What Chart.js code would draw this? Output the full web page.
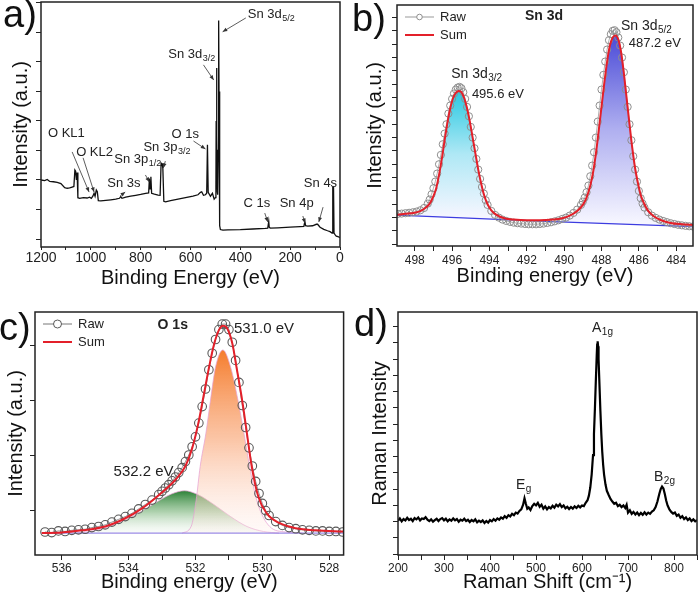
<!DOCTYPE html>
<html>
<head>
<meta charset="utf-8">
<script src="https://cdn.jsdelivr.net/npm/chart.js@4.4.0/dist/chart.umd.min.js"></script>
<style>
  html, body { margin: 0; padding: 0; background: #fff; }
  #wrap { position: relative; width: 698px; height: 600px; overflow: hidden; }
  .panel { position: absolute; width: 349px; height: 300px; }
  .tag { position: absolute; font-family: 'Liberation Sans', Arial, sans-serif; font-size: 38px; line-height: 1; color: #111; }
</style>
</head>
<body>
<div id="wrap">
  <div class="panel" style="left:0;top:0"><canvas id="chartA" width="349" height="300"></canvas></div>
  <div class="panel" style="left:349px;top:0"><canvas id="chartB" width="349" height="300"></canvas></div>
  <div class="panel" style="left:0;top:300px"><canvas id="chartC" width="349" height="300"></canvas></div>
  <div class="panel" style="left:349px;top:300px"><canvas id="chartD" width="349" height="300"></canvas></div>
  <div class="tag" style="left:3px;top:-5px">a)</div>
  <div class="tag" style="left:352px;top:-1px">b)</div>
  <div class="tag" style="left:-1px;top:308px">c)</div>
  <div class="tag" style="left:354px;top:304px">d)</div>
</div>
<script>
const FONT = "'Liberation Sans', Arial, sans-serif";

// a) survey spectrum
const surveyEnergy = [1200, 1185, 1175, 1165, 1150, 1135, 1120, 1105, 1095, 1085, 1075, 1068, 1064, 1061, 1058, 1055, 1052, 1045, 1030, 1015,
  1005, 998, 992, 987, 983, 978, 974, 970, 960, 940, 920, 900, 885, 880, 875, 860, 840, 820, 800, 780,
  768, 765, 762, 759, 756, 745, 730, 722, 718, 714, 711, 707, 700, 680, 650, 620, 590, 570, 560, 555,
  548, 540, 535, 532, 529, 520, 512, 505, 500, 498, 497, 495.5, 494, 492.5, 491, 489, 487, 485.5, 484, 482,
  480, 470, 450, 400, 350, 300, 290, 286, 284, 280, 250, 200, 160, 145, 141, 138, 130, 110, 95, 90,
  80, 65, 50, 40, 32, 29, 26, 24, 20, 15, 8, 3, 0];
const surveyCounts = [2.00, 1.98, 2.02, 1.95, 1.94, 1.92, 1.88, 1.74, 1.72, 1.73, 1.76, 1.78, 2.34, 2.30, 2.00, 2.25, 1.40, 1.38, 1.40, 1.39,
  1.42, 1.38, 1.45, 1.55, 1.45, 1.66, 1.60, 1.30, 1.29, 1.31, 1.33, 1.35, 1.38, 1.44, 1.38, 1.42, 1.45, 1.48, 1.51, 1.55,
  1.56, 2.05, 1.70, 2.11, 1.55, 1.52, 1.49, 1.48, 2.57, 2.55, 2.40, 1.28, 1.26, 1.30, 1.35, 1.40, 1.45, 1.50, 1.58, 1.60,
  1.48, 1.50, 1.55, 3.19, 1.58, 1.45, 1.55, 1.35, 1.40, 1.80, 4.00, 5.79, 3.50, 1.60, 1.50, 3.00, 7.40, 5.00, 1.20, 0.45,
  0.32, 0.30, 0.31, 0.32, 0.34, 0.36, 0.37, 0.60, 0.40, 0.37, 0.38, 0.40, 0.42, 0.43, 0.60, 0.45, 0.44, 0.45, 0.50, 0.50,
  0.40, 0.33, 0.28, 0.25, 0.20, 1.77, 1.77, 0.20, 0.15, 0.10, 0.08, 0.06, 0.05];

// b) Sn 3d
const snRawEnergy = [498.9, 498.7, 498.5, 498.3, 498.1, 497.9, 497.7, 497.5, 497.3, 497.2, 497.1, 497.0, 496.9, 496.8, 496.7, 496.6, 496.5, 496.4, 496.3, 496.2,
  496.1, 496.0, 495.9, 495.8, 495.7, 495.6, 495.5, 495.4, 495.3, 495.2, 495.1, 495.0, 494.9, 494.8, 494.7, 494.6, 494.5, 494.4, 494.3, 494.2,
  494.1, 493.9, 493.7, 493.5, 493.3, 493.1, 492.9, 492.7, 492.5, 492.3, 492.1, 491.9, 491.7, 491.5, 491.3, 491.1, 490.9, 490.7, 490.5, 490.3,
  490.1, 489.9, 489.7, 489.5, 489.3, 489.1, 489.0, 488.9, 488.8, 488.7, 488.6, 488.5, 488.4, 488.3, 488.2, 488.1, 488.0, 487.9, 487.8, 487.7,
  487.6, 487.5, 487.4, 487.3, 487.2, 487.1, 487.0, 486.9, 486.8, 486.7, 486.6, 486.5, 486.4, 486.3, 486.2, 486.1, 486.0, 485.9, 485.8, 485.7,
  485.5, 485.3, 485.1, 484.9, 484.7, 484.5, 484.3, 484.1, 483.9, 483.7, 483.5, 483.3, 483.1];
const snRawCounts = [1.28, 1.30, 1.33, 1.36, 1.40, 1.45, 1.55, 1.72, 2.05, 2.35, 2.75, 3.2, 3.7, 4.3, 5.0, 5.7, 6.5, 7.3, 8.0, 8.8,
  9.4, 9.9, 10.3, 10.6, 10.75, 10.8, 10.7, 10.4, 9.9, 9.3, 8.6, 7.8, 7.0, 6.2, 5.4, 4.6, 3.9, 3.3, 2.8, 2.3,
  1.95, 1.5, 1.2, 1.0, 0.85, 0.75, 0.68, 0.62, 0.58, 0.55, 0.52, 0.50, 0.50, 0.50, 0.52, 0.55, 0.60, 0.65, 0.72, 0.80,
  0.90, 1.0, 1.15, 1.35, 1.6, 1.95, 2.2, 2.5, 2.9, 3.4, 4.1, 4.9, 5.9, 7.0, 8.2, 9.4, 10.6, 11.7, 12.7, 13.6,
  14.3, 14.75, 15.0, 15.05, 14.9, 14.5, 13.9, 13.0, 11.9, 10.6, 9.3, 8.0, 6.8, 5.6, 4.6, 3.7, 3.0, 2.45, 2.05, 1.75,
  1.4, 1.15, 0.98, 0.85, 0.75, 0.66, 0.58, 0.52, 0.46, 0.42, 0.38, 0.35, 0.33];
const snSumEnergy = [498.95, 498.5, 498.0, 497.7, 497.4, 497.2, 497.0, 496.85, 496.7, 496.55, 496.4, 496.25, 496.1, 495.95, 495.8, 495.65, 495.5, 495.35, 495.2, 495.05,
  494.9, 494.75, 494.6, 494.45, 494.3, 494.1, 493.9, 493.6, 493.2, 492.7, 492.0, 491.3, 490.6, 490.1, 489.7, 489.3, 489.0, 488.8, 488.6, 488.45,
  488.3, 488.15, 488.0, 487.85, 487.7, 487.55, 487.4, 487.25, 487.1, 486.95, 486.8, 486.65, 486.5, 486.35, 486.2, 486.05, 485.9, 485.7, 485.5, 485.2,
  484.8, 484.3, 483.7, 483.1];
const snSumCounts = [1.22, 1.28, 1.36, 1.48, 1.75, 2.05, 2.6, 3.2, 4.2, 5.4, 6.8, 8.1, 9.2, 9.95, 10.35, 10.5, 10.4, 9.95, 9.2, 8.2,
  7.0, 5.8, 4.6, 3.6, 2.75, 2.0, 1.55, 1.18, 0.95, 0.85, 0.80, 0.80, 0.85, 0.95, 1.15, 1.5, 1.95, 2.5, 3.4, 4.4,
  5.8, 7.5, 9.3, 11.1, 12.7, 13.9, 14.5, 14.65, 14.35, 13.4, 11.8, 9.9, 8.0, 6.2, 4.7, 3.6, 2.7, 2.0, 1.5, 1.1,
  0.8, 0.6, 0.5, 0.45];
const snBgEnergy = [498.95, 491.0, 483.1];
const snBgCounts = [1.18, 0.72, 0.33];
const snSplit = 491.3;

// c) O 1s
const oRawEnergy = [536.5, 536.3, 536.1, 535.9, 535.7, 535.5, 535.3, 535.1, 534.9, 534.7, 534.5, 534.3, 534.1, 533.9, 533.7, 533.5, 533.3, 533.1, 533.0, 532.9,
  532.8, 532.7, 532.6, 532.5, 532.4, 532.3, 532.2, 532.1, 532.0, 531.9, 531.8, 531.7, 531.6, 531.5, 531.4, 531.3, 531.2, 531.1, 531.0, 530.9,
  530.8, 530.7, 530.6, 530.5, 530.4, 530.3, 530.2, 530.1, 530.0, 529.9, 529.8, 529.6, 529.4, 529.2, 529.0, 528.8, 528.6, 528.4, 528.2, 528.0,
  527.8, 527.6];
const oRawCounts = [-0.40, -0.41, -0.38, -0.39, -0.37, -0.36, -0.35, -0.32, -0.30, -0.27, -0.22, -0.17, -0.12, -0.06, 0.02, 0.10, 0.18, 0.28, 0.34, 0.40,
  0.46, 0.53, 0.60, 0.68, 0.77, 0.88, 1.00, 1.15, 1.33, 1.58, 1.88, 2.20, 2.55, 2.85, 3.10, 3.28, 3.38, 3.38, 3.28, 3.05,
  2.72, 2.32, 1.90, 1.50, 1.13, 0.80, 0.52, 0.30, 0.12, -0.01, -0.10, -0.21, -0.28, -0.32, -0.34, -0.36, -0.37, -0.38, -0.38, -0.39,
  -0.39, -0.40];
const oSumEnergy = [536.6, 536.0, 535.4, 534.7, 534.1, 533.6, 533.1, 532.6, 532.3, 532.1, 531.9, 531.75, 531.6, 531.45, 531.3, 531.18, 531.05, 530.9, 530.76, 530.6,
  530.46, 530.32, 530.12, 529.87, 529.48, 529.0, 528.4, 527.57];
const oSumCounts = [-0.42, -0.41, -0.37, -0.30, -0.15, 0.03, 0.27, 0.55, 0.80, 1.12, 1.62, 2.10, 2.58, 3.00, 3.27, 3.35, 3.30, 3.03, 2.55, 1.98,
  1.39, 0.80, 0.24, -0.06, -0.24, -0.33, -0.37, -0.39];
const oLatticeEnergy = [532.4, 532.13, 531.98, 531.86, 531.69, 531.55, 531.4, 531.18, 530.95, 530.73, 530.55, 530.38, 530.17, 529.78, 529.3, 528.8];
const oLatticeCounts = [-0.42, -0.30, 0.18, 0.79, 1.39, 2.00, 2.60, 2.91, 2.60, 2.00, 1.39, 0.79, 0.18, -0.30, -0.40, -0.42];
const oVacancyEnergy = [535.6, 534.9, 534.1, 533.6, 533.12, 532.72, 532.33, 531.93, 531.45, 530.95, 530.46, 529.97, 529.5];
const oVacancyCounts = [-0.42, -0.36, -0.18, -0.02, 0.16, 0.29, 0.35, 0.28, 0.10, -0.12, -0.30, -0.39, -0.42];
const oBgEnergy = [536.6, 527.57];
const oBgCounts = [-0.42, -0.42];

// d) Raman
const ramanShift = [200, 204, 208, 212, 216, 220, 224, 228, 232, 236, 240, 244, 248, 252, 256, 260, 264, 268, 272, 276,
  280, 284, 288, 292, 296, 300, 304, 308, 312, 316, 320, 324, 328, 332, 336, 340, 344, 348, 352, 356,
  360, 364, 368, 372, 376, 380, 384, 388, 392, 396, 400, 404, 408, 412, 416, 420, 424, 428, 432, 436,
  440, 444, 448, 452, 456, 460, 464, 468, 472, 475, 478, 481, 484, 488, 492, 496, 500, 504, 508, 512,
  516, 520, 524, 528, 532, 536, 540, 544, 548, 552, 556, 560, 564, 568, 572, 576, 580, 584, 588, 592,
  596, 600, 604, 608, 612, 615, 618, 621, 624, 626, 628, 630, 632, 633, 634, 635, 636, 638, 640, 642,
  644, 646, 648, 651, 654, 658, 662, 666, 670, 674, 678, 682, 686, 690, 694, 697, 700, 704, 708, 712,
  716, 720, 724, 728, 732, 736, 740, 744, 748, 752, 756, 760, 764, 768, 771, 774, 777, 780, 783, 786,
  790, 794, 798, 802, 806, 810, 814, 818, 822, 826, 830, 834, 838, 842, 846, 850];
const ramanIntensity = [0.03, 0.10, 0.01, 0.08, 0.04, 0.12, 0.05, 0.09, 0.02, 0.11, 0.07, 0.13, 0.04, 0.10, 0.08, 0.14, 0.06, 0.02, 0.07, 0.00,
  0.05, 0.09, 0.02, 0.08, 0.11, 0.04, 0.09, 0.01, 0.07, 0.03, 0.10, 0.04, 0.08, 0.00, 0.06, 0.03, 0.09, 0.02, 0.06, -0.01,
  0.05, 0.01, 0.07, -0.02, 0.03, -0.01, 0.04, -0.04, 0.02, -0.03, 0.05, 0.01, 0.08, 0.03, 0.10, 0.06, 0.13, 0.09, 0.17, 0.12,
  0.20, 0.16, 0.24, 0.20, 0.28, 0.25, 0.33, 0.38, 0.52, 0.72, 0.55, 0.40, 0.44, 0.36, 0.48, 0.55, 0.50, 0.58, 0.46, 0.52,
  0.40, 0.47, 0.38, 0.45, 0.41, 0.49, 0.43, 0.52, 0.47, 0.54, 0.45, 0.50, 0.41, 0.46, 0.39, 0.45, 0.40, 0.47, 0.42, 0.49,
  0.44, 0.50, 0.48, 0.58, 0.66, 0.80, 1.05, 1.45, 2.05, 2.70, 3.45, 4.30, 5.10, 5.45, 5.55, 5.40, 5.00, 4.20, 3.40, 2.70,
  2.15, 1.75, 1.45, 1.15, 0.95, 0.82, 0.70, 0.62, 0.55, 0.58, 0.48, 0.52, 0.45, 0.50, 0.42, 0.52, 0.28, 0.35, 0.24, 0.30,
  0.22, 0.28, 0.20, 0.27, 0.21, 0.29, 0.22, 0.28, 0.24, 0.31, 0.35, 0.45, 0.62, 0.85, 1.00, 1.08, 1.02, 0.85, 0.65, 0.50,
  0.38, 0.30, 0.25, 0.28, 0.18, 0.22, 0.12, 0.17, 0.08, 0.13, 0.05, 0.10, 0.02, 0.07, 0.01, 0.05];

// text placed inside the panels, in data units of each panel
const panelNotes = {
  chartA: {
    size: 13,
    labels: [
      { x: 370, y: 7.6, t: 'Sn 3d', s: '5/2' },
      { x: 689, y: 6.24, t: 'Sn 3d', s: '3/2' },
      { x: 676, y: 3.53, t: 'O 1s' },
      { x: 789, y: 3.12, t: 'Sn 3p', s: '3/2' },
      { x: 906, y: 2.71, t: 'Sn 3p', s: '1/2' },
      { x: 934, y: 1.90, t: 'Sn 3s' },
      { x: 1172, y: 3.59, t: 'O KL1' },
      { x: 1059, y: 2.95, t: 'O KL2' },
      { x: 387, y: 1.22, t: 'C 1s' },
      { x: 242, y: 1.22, t: 'Sn 4p' },
      { x: 145, y: 1.90, t: 'Sn 4s' }
    ],
    arrows: [
      [378, 7.49, 471, 7.02], [548, 5.9, 507, 5.39], [588, 3.32, 540, 3.05], [701, 2.64, 709, 2.41],
      [781, 2.17, 765, 1.93], [882, 1.46, 862, 1.59], [1075, 2.95, 1007, 1.59], [1031, 2.75, 987, 1.59],
      [302, 0.88, 290, 0.58], [149, 0.78, 141, 0.54], [68, 1.08, 85, 0.58]
    ]
  },
  chartB: {
    size: 14,
    labels: [
      { x: 496.05, y: 11.76, t: 'Sn 3d', s: '3/2' },
      { x: 494.94, y: 10.2, t: '495.6 eV', size: 13 },
      { x: 486.96, y: 15.39, t: 'Sn 3d', s: '5/2' },
      { x: 486.54, y: 14.05, t: '487.2 eV', size: 13 },
      { x: 491.08, y: 16.12, t: 'Sn 3d', bold: true, center: true }
    ],
    legend: { r: 2.8 }
  },
  chartC: {
    size: 15,
    labels: [
      { x: 530.85, y: 3.29, t: '531.0 eV' },
      { x: 534.45, y: 0.69, t: '532.2 eV' },
      { x: 532.68, y: 3.36, t: 'O 1s', bold: true, center: true, size: 14 }
    ],
    legend: { r: 4 }
  },
  chartD: {
    size: 14,
    labels: [
      { x: 621.7, y: 5.96, t: 'A', s: '1g' },
      { x: 456.5, y: 1.13, t: 'E', s: 'g' },
      { x: 756.5, y: 1.38, t: 'B', s: '2g' }
    ]
  }
};

function toPoints(xs, ys) {
  return xs.map(function (x, i) { return { x: x, y: ys[i] }; });
}

function drawArrow(ctx, x1, y1, x2, y2) {
  ctx.beginPath();
  ctx.moveTo(x1, y1);
  ctx.lineTo(x2, y2);
  ctx.stroke();
  var ang = Math.atan2(y2 - y1, x2 - x1);
  ctx.beginPath();
  ctx.moveTo(x2, y2);
  ctx.lineTo(x2 - 5 * Math.cos(ang - 0.4), y2 - 5 * Math.sin(ang - 0.4));
  ctx.lineTo(x2 - 5 * Math.cos(ang + 0.4), y2 - 5 * Math.sin(ang + 0.4));
  ctx.closePath();
  ctx.fill();
}

const notesPlugin = {
  id: 'panelNotes',
  afterDraw: function (chart) {
    var ctx = chart.ctx;
    var area = chart.chartArea;
    var xs = chart.scales.x, ys = chart.scales.y;
    var notes = panelNotes[chart.canvas.id] || {};
    ctx.save();
    ctx.strokeStyle = '#222';
    ctx.lineWidth = 1.5;
    ctx.strokeRect(area.left, area.top, area.right - area.left, area.bottom - area.top);

    ctx.strokeStyle = '#333';
    ctx.fillStyle = '#333';
    ctx.lineWidth = 0.8;
    (notes.arrows || []).forEach(function (a) {
      drawArrow(ctx, xs.getPixelForValue(a[0]), ys.getPixelForValue(a[1]), xs.getPixelForValue(a[2]), ys.getPixelForValue(a[3]));
    });

    ctx.fillStyle = '#222';
    ctx.textBaseline = 'middle';
    (notes.labels || []).forEach(function (l) {
      var size = l.size || notes.size;
      var px = xs.getPixelForValue(l.x), py = ys.getPixelForValue(l.y);
      ctx.font = (l.bold ? 'bold ' : '') + size + 'px ' + FONT;
      var w = ctx.measureText(l.t).width;
      if (l.center) px -= w / 2;
      ctx.fillText(l.t, px, py);
      if (l.s) {
        ctx.font = Math.round(size * 0.72) + 'px ' + FONT;
        ctx.fillText(l.s, px + w + 0.5, py + size * 0.32);
      }
    });

    if (notes.legend) {
      var sum = chart.data.datasets[0], raw = chart.data.datasets[1];
      [raw, sum].forEach(function (ds, i) {
        var y = area.top + 12 + i * 18;
        var x0 = area.left + 8, x1 = area.left + 37;
        ctx.strokeStyle = ds.borderColor;
        ctx.lineWidth = ds === sum ? 2 : 1;
        ctx.beginPath();
        ctx.moveTo(x0, y);
        ctx.lineTo(x1, y);
        ctx.stroke();
        if (ds === raw) {
          ctx.fillStyle = '#fff';
          ctx.strokeStyle = ds.pointBorderColor;
          ctx.beginPath();
          ctx.arc((x0 + x1) / 2, y, notes.legend.r, 0, Math.PI * 2);
          ctx.fill();
          ctx.stroke();
        }
        ctx.fillStyle = '#222';
        ctx.font = '13px ' + FONT;
        ctx.fillText(ds.label, area.left + 43, y);
      });
    }
    ctx.restore();
  }
};
Chart.register(notesPlugin);

function fadeFill(context) {
  var chart = context.chart;
  var ds = context.dataset;
  if (!chart.chartArea || !chart.scales.y) return ds.fade[0];
  var ys = chart.scales.y;
  var top = Math.max.apply(null, ds.data.map(function (p) { return p.y; }));
  var g = chart.ctx.createLinearGradient(0, ys.getPixelForValue(top), 0, ys.getPixelForValue(ds.fadeTo));
  g.addColorStop(0, ds.fade[0]);
  g.addColorStop(0.5, ds.fade[1]);
  g.addColorStop(1, ds.fade[2]);
  return g;
}

function xAxis(c) {
  return {
    type: 'linear', min: c.min, max: c.max, reverse: !!c.reverse,
    border: { display: false },
    grid: { drawOnChartArea: false, color: '#222', tickLength: c.tick || 5, tickWidth: 1 },
    ticks: {
      stepSize: c.step, autoSkip: false, maxRotation: 0, includeBounds: false, padding: c.pad,
      color: '#222', font: { family: FONT, size: c.size },
      callback: function (v) {
        var k = v / c.every;
        return Math.abs(k - Math.round(k)) < 1e-6 ? String(Math.round(v)) : '';
      }
    },
    title: { display: true, text: c.title, color: '#111', font: { family: FONT, size: 20 }, padding: { top: 0, bottom: c.titlePad } },
    afterFit: function (s) { s.height = c.height; s.paddingLeft = 0; s.paddingRight = 0; }
  };
}

function yAxis(c) {
  return {
    type: 'linear', min: c.min, max: c.max,
    border: { display: false },
    grid: { drawOnChartArea: false, color: '#222', tickLength: 5, tickWidth: 1 },
    ticks: { stepSize: c.step, autoSkip: false, includeBounds: false, padding: 0, callback: function () { return ''; } },
    title: { display: true, text: c.title, color: '#111', font: { family: FONT, size: 20 }, padding: { top: c.titlePad, bottom: 0 } },
    afterFit: function (s) { s.width = c.width; s.paddingTop = 0; s.paddingBottom = 0; }
  };
}

function baseOptions(pad, x, y) {
  return {
    responsive: false,
    animation: false,
    devicePixelRatio: 1,
    layout: { padding: pad },
    plugins: { legend: { display: false }, tooltip: { enabled: false } },
    scales: { x: xAxis(x), y: yAxis(y) }
  };
}

// a)
new Chart(document.getElementById('chartA'), {
  type: 'line',
  data: {
    datasets: [{
      data: toPoints(surveyEnergy, surveyCounts),
      borderColor: '#111', borderWidth: 1.3, pointRadius: 0, fill: false
    }]
  },
  options: baseOptions({ left: 0, top: 2, right: 9, bottom: 0 },
    { min: 0, max: 1200, reverse: true, step: 100, every: 200, size: 14, pad: 0, tick: 3, height: 53, titlePad: 10, title: 'Binding Energy (eV)' },
    { min: -0.27, max: 8.03, step: 1, width: 41, titlePad: 9, title: 'Intensity (a.u.)' })
});

// b)
var snSum = toPoints(snSumEnergy, snSumCounts);
new Chart(document.getElementById('chartB'), {
  type: 'line',
  data: {
    datasets: [
      { label: 'Sum', data: snSum, borderColor: '#e3202a', borderWidth: 2, pointRadius: 0, fill: false, cubicInterpolationMode: 'monotone' },
      { label: 'Raw', data: toPoints(snRawEnergy, snRawCounts), borderColor: '#999', borderWidth: 0.8,
        pointRadius: 3.6, pointBorderColor: '#8e8e8e', pointBorderWidth: 1, pointBackgroundColor: 'rgba(255,255,255,0)', fill: false },
      { label: 'Background', data: toPoints(snBgEnergy, snBgCounts), borderColor: '#3c3ce0', borderWidth: 1.3, pointRadius: 0, fill: false },
      { label: 'Sn 3d3/2', data: snSum.filter(function (p) { return p.x >= snSplit; }), borderWidth: 0, pointRadius: 0, cubicInterpolationMode: 'monotone',
        fill: 2, fade: ['rgb(40,200,225)', 'rgb(175,232,245)', 'rgb(246,246,255)'], fadeTo: 1.0, backgroundColor: fadeFill },
      { label: 'Sn 3d5/2', data: snSum.filter(function (p) { return p.x <= snSplit; }), borderWidth: 0, pointRadius: 0, cubicInterpolationMode: 'monotone',
        fill: 2, fade: ['rgb(75,75,215)', 'rgb(175,175,240)', 'rgb(246,246,255)'], fadeTo: 0.6, backgroundColor: fadeFill }
    ]
  },
  options: baseOptions({ left: 0, top: 2, right: 1, bottom: 0 },
    { min: 483.1, max: 498.95, reverse: true, step: 1, every: 2, size: 12, pad: 2, height: 54, titlePad: 12, title: 'Binding energy (eV)' },
    { min: -1.13, max: 16.94, step: 1, width: 48, titlePad: 14.7, title: 'Intensity (a.u.)' })
});

// c)
new Chart(document.getElementById('chartC'), {
  type: 'line',
  data: {
    datasets: [
      { label: 'Sum', data: toPoints(oSumEnergy, oSumCounts), borderColor: '#e3202a', borderWidth: 2, pointRadius: 0, fill: false, cubicInterpolationMode: 'monotone' },
      { label: 'Raw', data: toPoints(oRawEnergy, oRawCounts), borderColor: '#777', borderWidth: 0.8,
        pointRadius: 4.3, pointBorderColor: '#5a5a5a', pointBorderWidth: 1.1, pointBackgroundColor: 'rgba(255,255,255,0)', fill: false },
      { label: 'Background', data: toPoints(oBgEnergy, oBgCounts), borderColor: '#8470e0', borderWidth: 1, pointRadius: 0, fill: false },
      { label: 'Lattice O', data: toPoints(oLatticeEnergy, oLatticeCounts), borderColor: 'rgba(230,160,210,0.9)', borderWidth: 0.8, pointRadius: 0,
        cubicInterpolationMode: 'monotone',
        fill: 2, fade: ['rgba(245,125,45,1)', 'rgba(250,180,140,0.75)', 'rgba(255,235,230,0.25)'], fadeTo: -0.42, backgroundColor: fadeFill },
      { label: 'Vacancy O', data: toPoints(oVacancyEnergy, oVacancyCounts), borderColor: 'rgba(230,160,210,0.9)', borderWidth: 0.8, pointRadius: 0,
        cubicInterpolationMode: 'monotone',
        fill: 2, fade: ['rgba(45,130,55,1)', 'rgba(140,190,140,0.7)', 'rgba(235,245,235,0.25)'], fadeTo: -0.42, backgroundColor: fadeFill }
    ]
  },
  options: baseOptions({ left: 0, top: 12, right: 1, bottom: 0 },
    { min: 527.57, max: 536.8, reverse: true, step: 1, every: 2, size: 12, pad: 1, height: 45, titlePad: 6, title: 'Binding energy (eV)' },
    { min: -0.818, max: 3.6, step: 1, width: 35, titlePad: 4, title: 'Intensity (a.u.)' })
});

// d)
new Chart(document.getElementById('chartD'), {
  type: 'line',
  data: {
    datasets: [{
      data: toPoints(ramanShift, ramanIntensity),
      borderColor: '#000', borderWidth: 2.2, pointRadius: 0, fill: false
    }]
  },
  options: baseOptions({ left: 0, top: 12, right: 1, bottom: 0 },
    { min: 200, max: 850, step: 50, every: 100, size: 12, pad: 1, height: 45, titlePad: 6, title: 'Raman Shift (cm\u207B\u00B9)' },
    { min: -1.025, max: 6.45, step: 0.5, width: 49, titlePad: 19, title: 'Raman Intensity' })
});
</script>
</body>
</html>
